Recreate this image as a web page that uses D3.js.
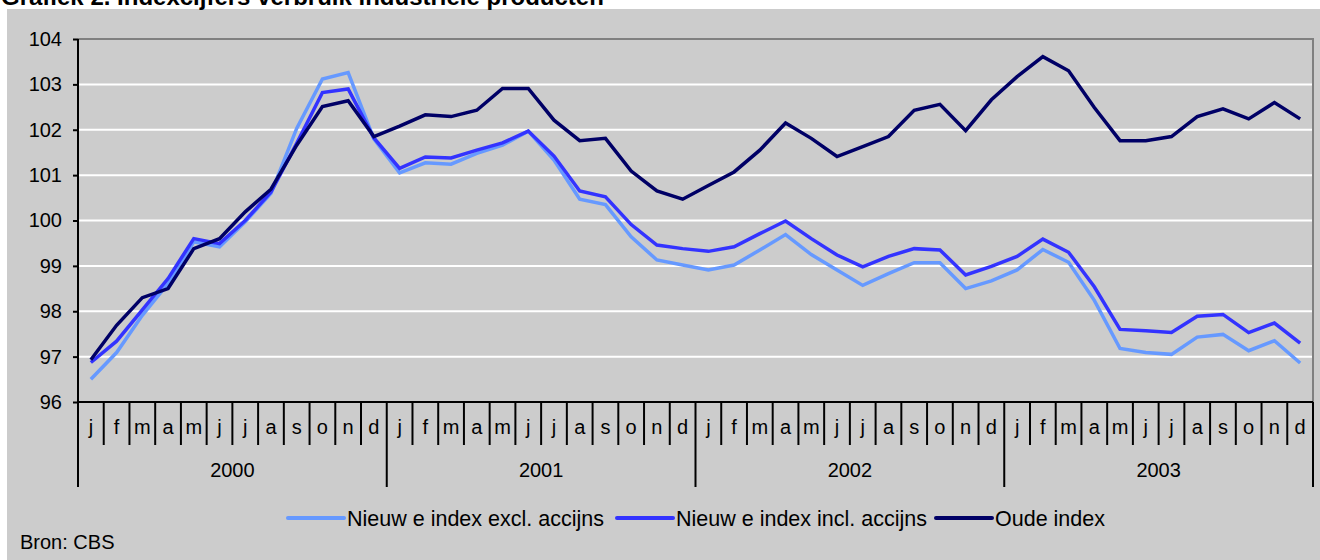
<!DOCTYPE html>
<html>
<head>
<meta charset="utf-8">
<script src="https://cdn.jsdelivr.net/npm/d3@7"></script>
<style>
  body { margin: 0; background: #fff; }
  svg { display: block; font-family: "Liberation Sans", Arial, sans-serif; }
</style>
</head>
<body>
<script>
var months = ["j","f","m","a","m","j","j","a","s","o","n","d"];
var years = ["2000","2001","2002","2003"];
var yTicks = [96, 97, 98, 99, 100, 101, 102, 103, 104];

var exclAccijns = [
  96.5, 97.09, 97.91, 98.61, 99.53, 99.42, 99.97, 100.6, 102.03, 103.12, 103.26, 101.8,
  101.05, 101.27, 101.24, 101.48, 101.66, 101.97, 101.33, 100.47, 100.35, 99.64, 99.13, 99.02,
  98.91, 99.02, 99.35, 99.69, 99.25, 98.91, 98.57, 98.83, 99.07, 99.07, 98.5, 98.67,
  98.91, 99.36, 99.08, 98.24, 97.18, 97.09, 97.05, 97.43, 97.49, 97.13, 97.35, 96.86
];
var inclAccijns = [
  96.87, 97.34, 98.03, 98.72, 99.6, 99.49, 100.0, 100.63, 101.7, 102.82, 102.9, 101.82,
  101.15, 101.4, 101.38, 101.55, 101.71, 101.97, 101.42, 100.65, 100.52, 99.91, 99.46, 99.38,
  99.32, 99.42, 99.71, 99.99, 99.6, 99.24, 98.98, 99.21, 99.38, 99.35, 98.8, 98.99,
  99.21, 99.59, 99.3, 98.54, 97.6, 97.57, 97.53, 97.89, 97.93, 97.53, 97.74, 97.3
];
var oudeIndex = [
  96.93, 97.69, 98.3, 98.5, 99.38, 99.6, 100.19, 100.69, 101.66, 102.51, 102.64, 101.85,
  102.08, 102.33, 102.29, 102.43, 102.91, 102.91, 102.21, 101.76, 101.81, 101.09, 100.65, 100.47,
  100.77, 101.07, 101.55, 102.15, 101.81, 101.41, 101.63, 101.85, 102.43, 102.56, 101.98, 102.66,
  103.17, 103.61, 103.3, 102.49, 101.76, 101.76, 101.85, 102.29, 102.46, 102.24, 102.6, 102.24
];

var series = [
  {name: "Nieuw e index excl. accijns", values: exclAccijns, color: "#6699ff"},
  {name: "Nieuw e index incl. accijns", values: inclAccijns, color: "#3333ff"},
  {name: "Oude index", values: oudeIndex, color: "#000066"}
];

var W = 1320, H = 560;
var plotLeft = 78, plotRight = 1313, plotTop = 39, plotBottom = 402;

var svg = d3.select("body").append("svg")
    .attr("width", W)
    .attr("height", H);

// grey chart area
svg.append("rect")
    .attr("x", 7).attr("y", 9)
    .attr("width", W - 7).attr("height", H - 9)
    .attr("fill", "#cccccc");

// title, partly cut off at the top
svg.append("text")
    .attr("x", 1).attr("y", 5)
    .attr("font-size", 24).attr("font-weight", "bold")
    .attr("fill", "#000")
    .text("Grafiek 2. Indexcijfers verbruik industriële producten");

var idx = d3.range(months.length * years.length);

var x = d3.scaleBand()
    .domain(idx)
    .range([plotLeft, plotRight])
    .padding(0);

var y = d3.scaleLinear()
    .domain([96, 104])
    .range([plotBottom, plotTop]);

// gridlines
svg.append("g")
  .selectAll("line")
    .data(yTicks.filter(function(d) { return d > 96 && d < 104; }))
  .enter().append("line")
    .attr("x1", plotLeft).attr("x2", plotRight)
    .attr("y1", function(d) { return y(d); })
    .attr("y2", function(d) { return y(d); })
    .attr("stroke", "#fff")
    .attr("stroke-width", 2);

// plot frame top and right
svg.append("path")
    .attr("d", "M" + plotLeft + "," + y(104) + "H" + plotRight + "V" + plotBottom)
    .attr("fill", "none")
    .attr("stroke", "#808080")
    .attr("stroke-width", 2);

// y axis
var yAxis = d3.axisLeft(y)
    .tickValues(yTicks)
    .tickSize(5)
    .tickPadding(11)
    .tickFormat(d3.format("d"));

var gy = svg.append("g")
    .attr("transform", "translate(" + plotLeft + ",0)")
    .call(yAxis);
gy.select(".domain").remove();
gy.selectAll("line").attr("stroke", "#000").attr("stroke-width", 2);
gy.selectAll("text")
    .attr("font-size", 20)
    .attr("font-family", "Liberation Sans, Arial, sans-serif")
    .attr("fill", "#000");

// x axis baseline
svg.append("line")
    .attr("x1", plotLeft).attr("x2", plotRight)
    .attr("y1", plotBottom).attr("y2", plotBottom)
    .attr("stroke", "#000").attr("stroke-width", 2);

// left axis line
svg.append("line")
    .attr("x1", plotLeft).attr("x2", plotLeft)
    .attr("y1", plotTop).attr("y2", 487)
    .attr("stroke", "#000").attr("stroke-width", 2);

// month boundary ticks
var bounds = d3.range(idx.length + 1);
svg.append("g")
  .selectAll("line")
    .data(bounds)
  .enter().append("line")
    .attr("x1", function(i) { return plotLeft + i * x.step(); })
    .attr("x2", function(i) { return plotLeft + i * x.step(); })
    .attr("y1", plotBottom)
    .attr("y2", function(i) { return i % 12 === 0 ? 487 : 445; })
    .attr("stroke", "#000")
    .attr("stroke-width", 2);

// month labels
svg.append("g")
  .selectAll("text")
    .data(idx)
  .enter().append("text")
    .attr("x", function(i) { return x(i) + x.bandwidth() / 2; })
    .attr("y", 434)
    .attr("text-anchor", "middle")
    .attr("font-size", 20)
    .text(function(i) { return months[i % 12]; });

// year labels
svg.append("g")
  .selectAll("text")
    .data(years)
  .enter().append("text")
    .attr("x", function(d, k) { return x(k * 12) + x.step() * 6; })
    .attr("y", 477)
    .attr("text-anchor", "middle")
    .attr("font-size", 20)
    .text(function(d) { return d; });

// lines
var line = d3.line()
    .x(function(d, i) { return x(i) + x.bandwidth() / 2; })
    .y(function(d) { return y(d); });

svg.append("g")
  .selectAll("path")
    .data(series)
  .enter().append("path")
    .attr("d", function(s) { return line(s.values); })
    .attr("fill", "none")
    .attr("stroke", function(s) { return s.color; })
    .attr("stroke-width", 3.5)
    .attr("stroke-linejoin", "miter");

// legend
var legendX = [288, 617, 936];
var lg = svg.append("g")
  .selectAll("g")
    .data(series)
  .enter().append("g")
    .attr("transform", function(d, i) { return "translate(" + legendX[i] + ",518)"; });

lg.append("line")
    .attr("x1", 0).attr("x2", 56)
    .attr("stroke", function(d) { return d.color; })
    .attr("stroke-width", 4)
    .attr("stroke-linecap", "round");

lg.append("text")
    .attr("x", 59).attr("y", 7.5)
    .attr("font-size", 21.5)
    .text(function(d) { return d.name; });

// source
svg.append("text")
    .attr("x", 20).attr("y", 549)
    .attr("font-size", 20)
    .text("Bron: CBS");
</script>
</body>
</html>
